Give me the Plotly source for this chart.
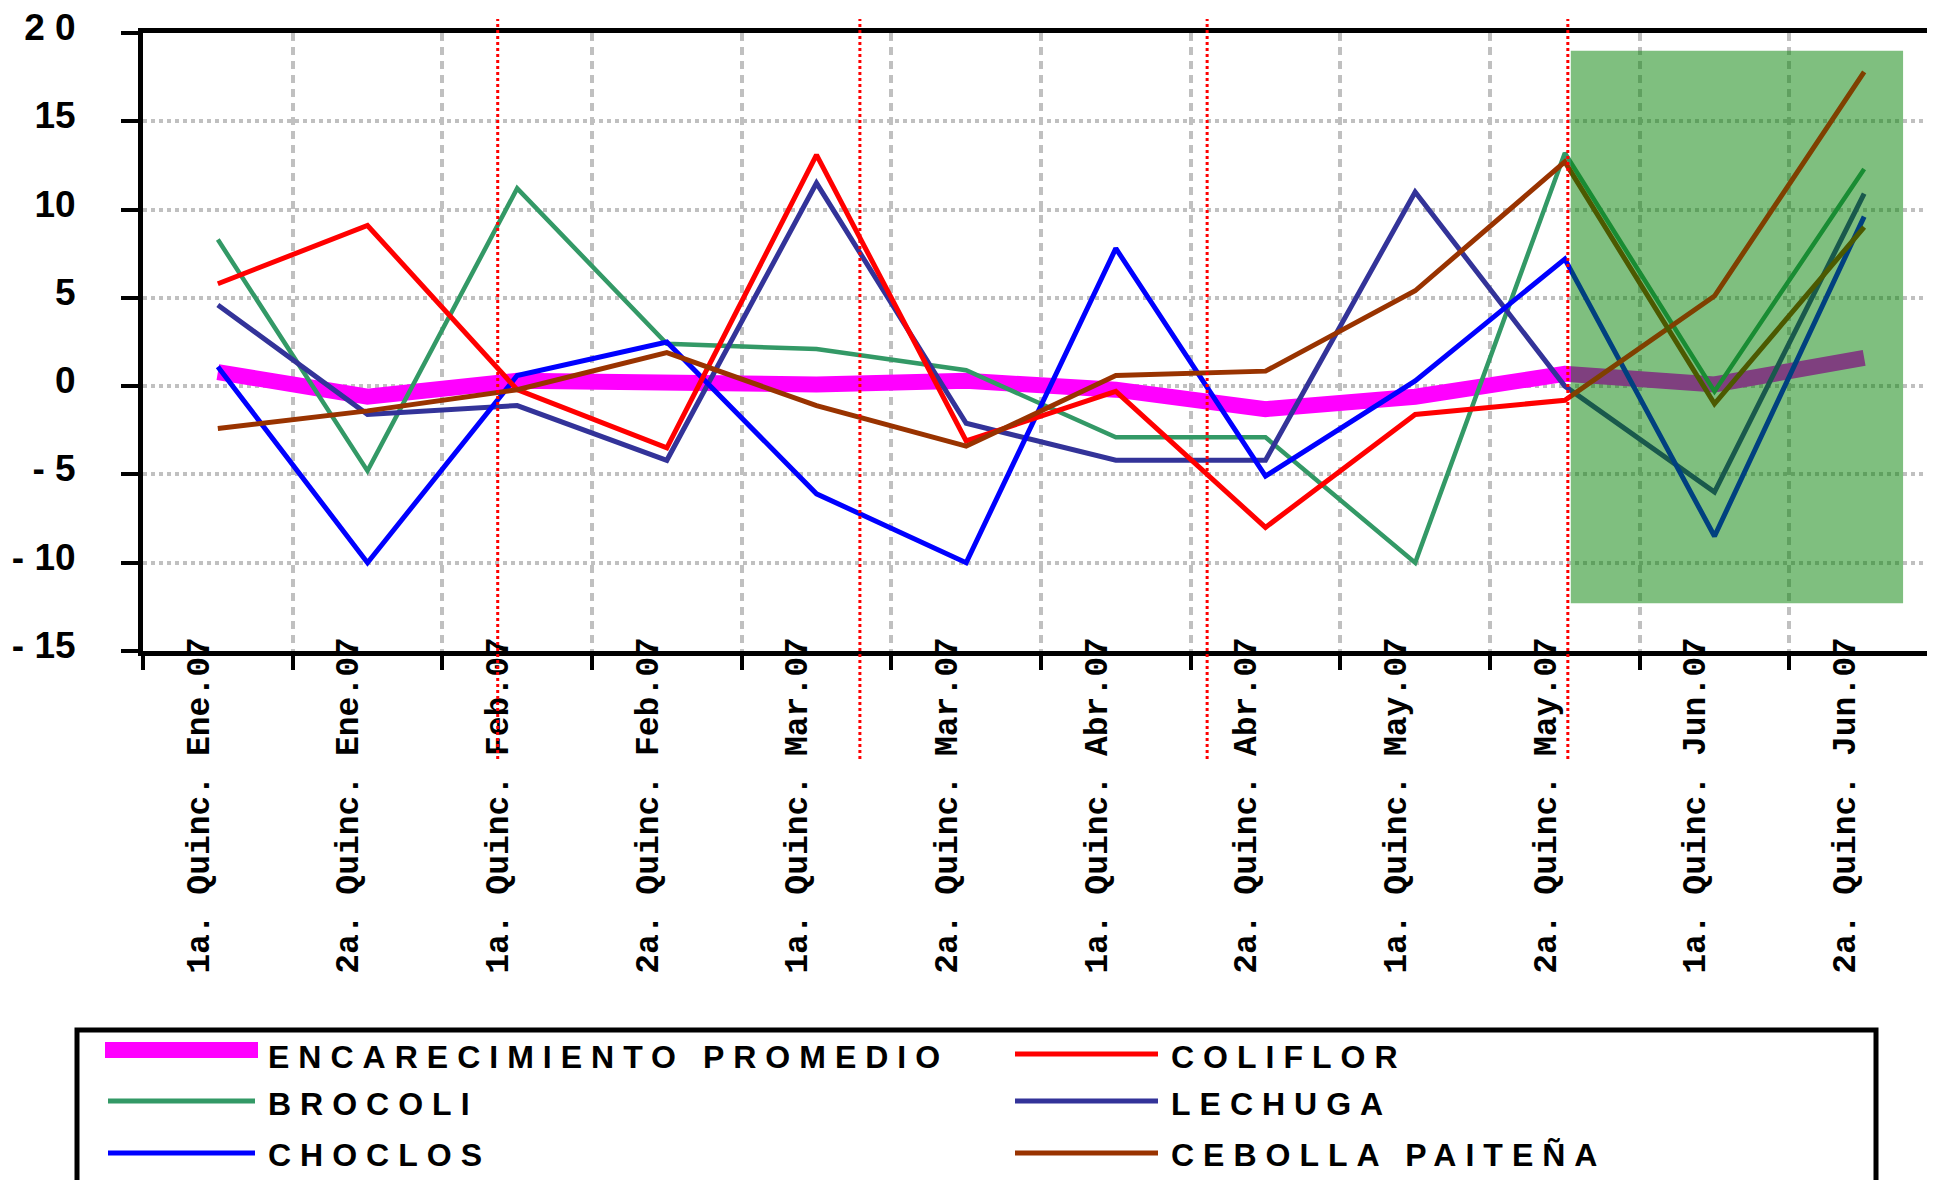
import plotly.graph_objects as go

# ---- data ----
quincenas = [
    "1a. Quinc. Ene.07", "2a. Quinc. Ene.07",
    "1a. Quinc. Feb.07", "2a. Quinc. Feb.07",
    "1a. Quinc. Mar.07", "2a. Quinc. Mar.07",
    "1a. Quinc. Abr.07", "2a. Quinc. Abr.07",
    "1a. Quinc. May.07", "2a. Quinc. May.07",
    "1a. Quinc. Jun.07", "2a. Quinc. Jun.07",
]
promedio = [0.8, -0.6, 0.3, 0.1, 0.1, 0.3, -0.2, -1.3, -0.6, 0.7, 0.1, 1.6]
coliflor = [5.8, 9.1, -0.2, -3.5, 13.1, -3.1, -0.3, -8.0, -1.6, -0.8, 5.1, 17.8]
brocoli = [8.3, -4.8, 11.2, 2.4, 2.1, 0.9, -2.9, -2.9, -10.0, 13.2, -0.3, 12.3]
lechuga = [4.6, -1.6, -1.1, -4.2, 11.5, -2.1, -4.2, -4.2, 11.0, 0.0, -6.0, 10.9]
choclos = [1.1, -10.0, 0.6, 2.5, -6.1, -10.0, 7.8, -5.1, 0.3, 7.2, -8.5, 9.6]
cebolla = [-2.4, -1.4, -0.2, 1.9, -1.1, -3.4, 0.6, 0.85, 5.4, 12.7, -1.0, 9.0]

y_tickvals = [-15, -10, -5, 0, 5, 10, 15, 20]
y_ticktext = ["- 15", "- 10", "- 5", "0", "5", "10", "15", "2 0"]

# month separators (category units) and the shaded projection block
cortes = [1.87, 4.29, 6.61, 9.02]
bloque_x = [9.04, 11.26]
bloque_y = [-12.3, 19.0]

series = [
    ("ENCARECIMIENTO PROMEDIO", promedio, "#FF00FF", 16),
    ("BROCOLI", brocoli, "#339966", 4.5),
    ("LECHUGA", lechuga, "#333399", 5),
    ("CHOCLOS", choclos, "#0000FF", 5),
    ("COLIFLOR", coliflor, "#FF0000", 5),
    ("CEBOLLA PAITEÑA", cebolla, "#993300", 5),
]

# the page body has an 8px margin; positions below are page pixels
OFF = 8
W, H = 1935, 1180
L, T = 135, 25
PLOT_W, PLOT_H = 1796, 618
R = W - L - PLOT_W
B = H - T - PLOT_H


def px(x):
    # page pixel -> paper
    return (x - OFF - L) / PLOT_W


def py(y):
    return (OFF + T + PLOT_H - y) / PLOT_H


fig = go.Figure()
for name, vals, color, width in series:
    fig.add_trace(
        go.Scatter(
            x=quincenas,
            y=vals,
            name=name,
            mode="lines",
            line=dict(color=color, width=width),
            showlegend=False,
        )
    )

# shaded block on top of the lines
fig.add_shape(
    type="rect", xref="x", yref="y",
    x0=bloque_x[0], x1=bloque_x[1], y0=bloque_y[0], y1=bloque_y[1],
    fillcolor="rgb(0,128,0)", opacity=0.5, line_width=0, layer="above",
)
for c in cortes:
    fig.add_shape(
        type="line", xref="x", yref="paper",
        x0=c, x1=c, y0=py(759), y1=py(19),
        line=dict(color="#FF0000", width=3, dash="dot"), layer="above",
    )

# legend box drawn by hand (long line samples)
fig.add_shape(
    type="rect", xref="paper", yref="paper",
    x0=px(77), x1=px(1876), y0=py(1240), y1=py(1030),
    line=dict(color="black", width=5), fillcolor="rgba(0,0,0,0)",
)
leg_pos = {
    "ENCARECIMIENTO PROMEDIO": (105, 258, 266, 1050, 1057),
    "COLIFLOR": (1015, 1158, 1169, 1054, 1057),
    "BROCOLI": (108, 255, 266, 1101, 1104),
    "LECHUGA": (1015, 1158, 1169, 1101, 1104),
    "CHOCLOS": (108, 255, 266, 1153, 1155),
    "CEBOLLA PAITEÑA": (1015, 1158, 1169, 1153, 1155),
}
for name, vals, color, width in series:
    x0, x1, xt, yl, yt = leg_pos[name]
    fig.add_shape(
        type="line", xref="paper", yref="paper",
        x0=px(x0), x1=px(x1), y0=py(yl), y1=py(yl),
        line=dict(color=color, width=16 if width > 10 else 5),
    )
    fig.add_annotation(
        xref="paper", yref="paper", x=px(xt), y=py(yt),
        xanchor="left", yanchor="middle", showarrow=False,
        text='<span style="letter-spacing:9px">' + name + "</span>",
        font=dict(family="Liberation Sans, Arial", size=32, color="black", weight="bold"),
    )

fig.update_xaxes(
    type="category",
    categoryorder="array",
    categoryarray=quincenas,
    range=[-0.5, 11.5],
    automargin=False,
    tickson="boundaries",
    ticks="outside",
    ticklen=14,
    tickwidth=4,
    tickcolor="black",
    showline=True,
    linewidth=5,
    linecolor="black",
    mirror=True,
    showgrid=True,
    gridcolor="#C0C0C0",
    gridwidth=4,
    griddash="8px,6px",
    tickangle=-90,
    tickfont=dict(family="Liberation Mono, Courier New", size=33, color="black", weight="bold"),
    ticklabelstandoff=-32,
    ticklabelshift=-20,
)
fig.update_yaxes(
    range=[-15, 20],
    automargin=False,
    tickmode="array",
    tickvals=y_tickvals,
    ticktext=y_ticktext,
    ticks="outside",
    ticklen=17,
    tickwidth=4,
    tickcolor="black",
    showline=True,
    linewidth=5,
    linecolor="black",
    showgrid=True,
    gridcolor="#C0C0C0",
    gridwidth=4,
    griddash="4px,4px",
    zeroline=False,
    tickfont=dict(family="Liberation Sans, Arial", size=37, color="black", weight="bold"),
    ticklabelstandoff=38,
    ticklabelshift=-6,
    ticklabeloverflow="allow",
)
fig.update_layout(
    width=W,
    height=H,
    margin=dict(l=L, r=R, t=T, b=B, pad=0),
    plot_bgcolor="white",
    paper_bgcolor="white",
    showlegend=False,
)
fig.write_html("out.html")
